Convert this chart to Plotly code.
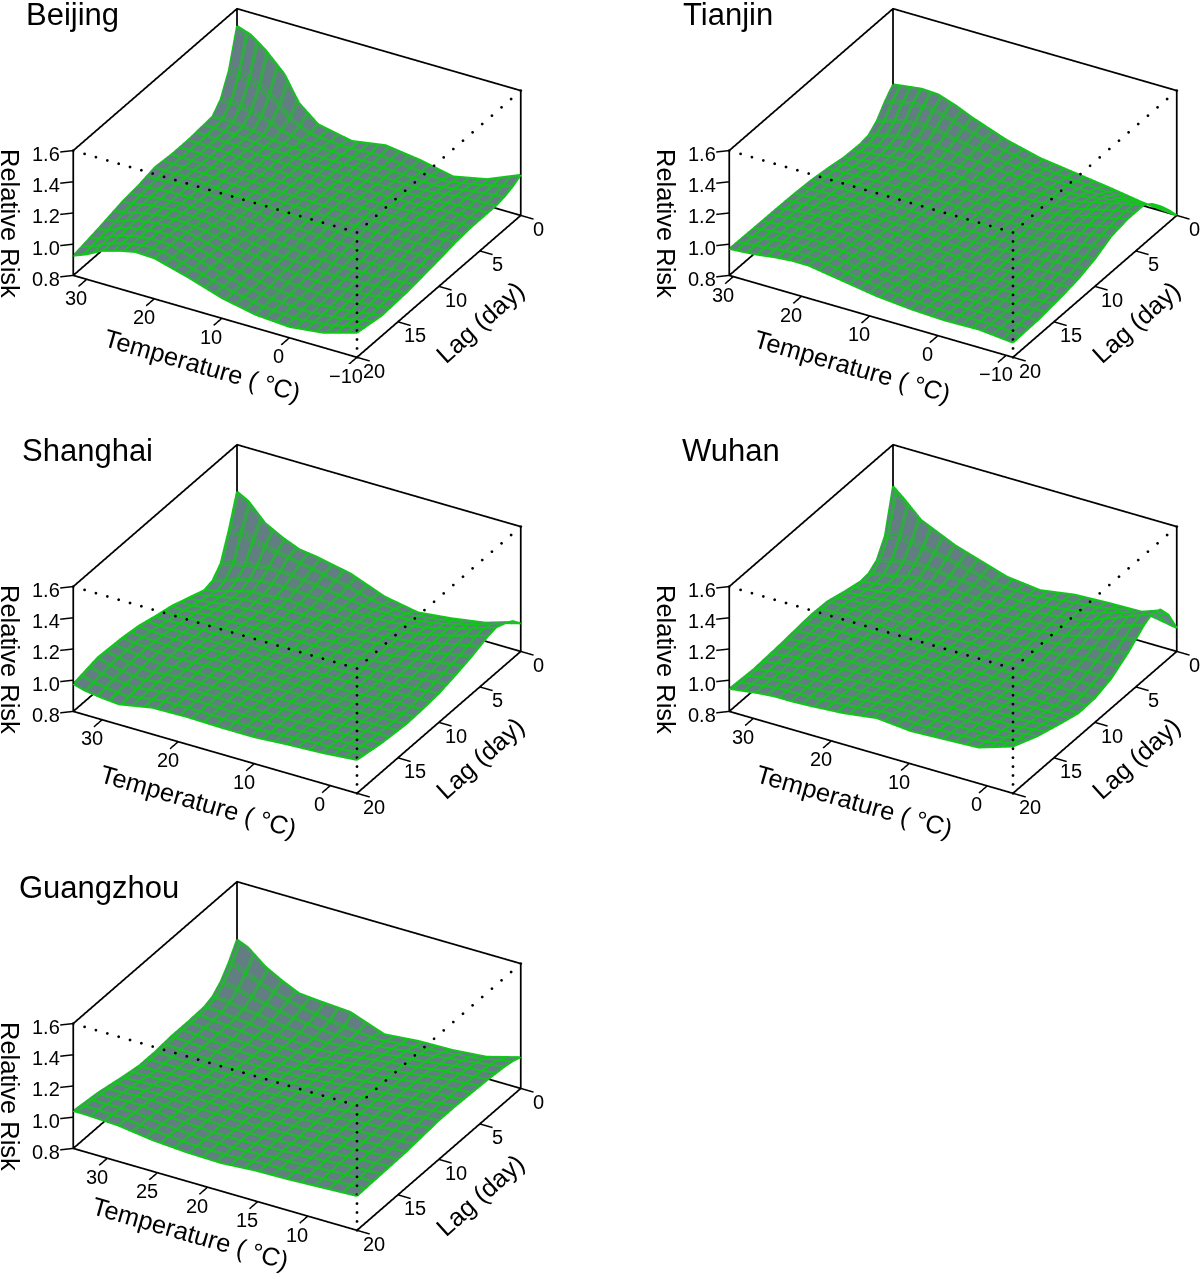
import plotly.graph_objects as go

lags = [0, 1, 2, 3, 4, 6, 8, 10, 12, 14, 17, 20]

beijing_temp = [-10, -5, 0, 5, 10, 15, 20, 22.8, 25, 27.8, 30, 32]
beijing_rr = [
    [1.06, .97, .925, .97, 1.00, .965, 1.01, 1.11, 1.27, 1.39, 1.46, 1.49],
    [1.03, .98, .94, .965, .985, .975, .995, 1.05, 1.14, 1.21, 1.24, 1.25],
    [1.01, .985, .955, .965, .98, .98, .995, 1.02, 1.06, 1.095, 1.11, 1.11],
    [1.00, .99, .965, .97, .98, .985, .995, 1.005, 1.02, 1.04, 1.05, 1.045],
    [1.00, .99, .975, .975, .98, .99, 1.0, 1.005, 1.02, 1.03, 1.035, 1.04],
    [1.00, .995, .985, .98, .985, .99, 1.0, 1.01, 1.02, 1.025, 1.03, 1.03],
    [.99, .985, .98, .98, .985, .99, 1.005, 1.01, 1.02, 1.025, 1.03, 1.03],
    [.97, .965, .96, .965, .98, .995, 1.01, 1.02, 1.03, 1.035, 1.035, 1.04],
    [.955, .945, .94, .95, .97, .99, 1.02, 1.03, 1.03, 1.03, 1.02, 1.015],
    [.94, .925, .915, .93, .955, .99, 1.03, 1.04, 1.04, 1.03, 1.01, 1.0],
    [.93, .90, .885, .90, .94, .995, 1.05, 1.055, 1.045, 1.02, .98, .96],
    [.957, .895, .87, .885, .93, 1.0, 1.06, 1.065, 1.045, 1.01, .96, .926],
]

tianjin_temp = [-11, -6, -1, 4, 9, 14, 19, 21.4, 24, 26.4, 29, 30.6]
tianjin_rr = [
    [.80, .82, .855, .885, .915, .97, 1.05, 1.096, 1.135, 1.14, 1.125, 1.115],
    [.88, .88, .885, .90, .925, .965, 1.03, 1.065, 1.09, 1.09, 1.07, 1.05],
    [.95, .93, .91, .915, .93, .96, 1.0, 1.02, 1.03, 1.02, .99, .97],
    [1.01, .97, .93, .925, .935, .955, .975, .985, .985, .97, .945, .925],
    [1.05, 1.0, .945, .93, .935, .95, .96, .965, .96, .945, .925, .915],
    [1.05, 1.0, .95, .935, .935, .945, .95, .955, .95, .94, .93, .92],
    [1.03, .985, .945, .93, .93, .94, .95, .95, .95, .945, .945, .94],
    [.975, .955, .93, .925, .925, .94, .955, .96, .96, .958, .955, .955],
    [.94, .93, .92, .915, .925, .945, .965, .97, .97, .97, .965, .962],
    [.92, .915, .91, .91, .925, .95, .98, .985, .985, .98, .97, .965],
    [.90, .905, .905, .91, .93, .96, .995, 1.0, 1.0, .99, .975, .967],
    [.894, .915, .91, .92, .94, .975, 1.01, 1.01, 1.0, .985, .975, .97],
]

shanghai_temp = [-3.5, 1, 5.5, 10, 14.4, 18.9, 23.4, 25.6, 27.8, 30.1, 32.3, 33.8]
shanghai_rr = [
    [.98, .92, .885, .86, .90, .985, 1.03, 1.045, 1.09, 1.15, 1.26, 1.30],
    [1.04, .97, .92, .89, .91, .965, 1.01, 1.03, 1.05, 1.07, 1.11, 1.10],
    [1.07, 1.0, .945, .915, .92, .95, .98, .99, .99, .97, .95, .93],
    [1.09, 1.02, .96, .93, .925, .94, .955, .955, .95, .92, .885, .865],
    [1.08, 1.02, .965, .935, .93, .93, .94, .93, .925, .895, .865, .85],
    [1.04, 1.0, .965, .945, .935, .935, .935, .93, .925, .91, .895, .89],
    [1.01, .985, .96, .945, .94, .94, .945, .94, .94, .935, .925, .93],
    [.985, .97, .955, .95, .945, .95, .955, .955, .955, .955, .95, .955],
    [.975, .965, .955, .955, .955, .96, .965, .965, .965, .97, .975, .985],
    [.97, .965, .96, .96, .96, .97, .975, .97, .97, .98, .99, 1.0],
    [.985, .975, .97, .965, .97, .975, .975, .965, .95, .965, .985, 1.01],
    [1.014, .995, .985, .97, .97, .975, .97, .95, .93, .94, .955, .976],
]

wuhan_temp = [-3.3, 1.1, 5.4, 9.8, 14.2, 18.5, 22.9, 25.1, 27.3, 29.5, 31.6, 33.1]
wuhan_rr = [
    [.95, .99, .985, .975, .94, .965, 1.035, 1.07, 1.12, 1.17, 1.27, 1.335],
    [1.08, 1.05, 1.0, .98, .95, .96, 1.005, 1.03, 1.05, 1.07, 1.08, 1.06],
    [1.16, 1.08, 1.01, .98, .955, .955, .98, .99, 1.0, .99, .97, .95],
    [1.18, 1.09, 1.01, .98, .955, .95, .965, .965, .97, .945, .925, .91],
    [1.15, 1.08, 1.01, .975, .955, .95, .955, .955, .955, .93, .915, .905],
    [1.06, 1.03, .995, .97, .955, .95, .95, .955, .955, .945, .935, .93],
    [.99, .985, .97, .96, .955, .955, .955, .96, .96, .96, .96, .96],
    [.955, .96, .96, .96, .96, .96, .965, .97, .97, .97, .965, .965],
    [.95, .955, .965, .97, .97, .97, .975, .975, .975, .97, .96, .955],
    [.98, .975, .98, .985, .985, .98, .98, .98, .98, .97, .955, .945],
    [1.03, 1.0, 1.0, 1.0, 1.01, .995, .985, .98, .98, .965, .95, .935],
    [1.10, 1.03, 1.02, 1.01, 1.03, 1.0, .985, .98, .98, .97, .955, .945],
]

guangzhou_temp = [5.1, 8.5, 11.9, 15.3, 18.7, 22.1, 25.5, 27.2, 28.9, 30.6, 32.3, 33.4]
guangzhou_rr = [
    [1.0, .94, .92, .915, .895, .975, .99, 1.0, 1.05, 1.11, 1.2, 1.23],
    [1.02, .975, .95, .93, .91, .93, .965, .99, 1.02, 1.06, 1.11, 1.13],
    [1.03, 1.0, .97, .945, .92, .92, .945, .965, .99, 1.01, 1.04, 1.05],
    [1.035, 1.01, .98, .955, .93, .915, .935, .95, .97, .98, 1.0, 1.0],
    [1.04, 1.02, .99, .965, .935, .915, .93, .94, .955, .965, .98, .98],
    [1.045, 1.03, 1.0, .975, .95, .925, .93, .94, .95, .96, .97, .975],
    [1.05, 1.03, 1.005, .985, .96, .945, .94, .945, .955, .96, .97, .975],
    [1.05, 1.03, 1.01, .99, .975, .96, .955, .955, .96, .96, .965, .965],
    [1.04, 1.025, 1.01, .99, .98, .97, .97, .97, .975, .97, .965, .965],
    [1.03, 1.02, 1.005, .99, .98, .98, .985, .99, .995, .99, .985, .985],
    [1.025, 1.015, 1.0, .99, .98, .98, .995, 1.005, 1.02, 1.02, 1.015, 1.02],
    [1.02, 1.01, 1.0, .995, .98, .985, 1.0, 1.015, 1.03, 1.035, 1.04, 1.04],
]

cities = ["Beijing", "Tianjin", "Shanghai", "Wuhan", "Guangzhou"]
temps = [beijing_temp, tianjin_temp, shanghai_temp, wuhan_temp, guangzhou_temp]
rrs = [beijing_rr, tianjin_rr, shanghai_rr, wuhan_rr, guangzhou_rr]
temp_ticks = [[-10, 0, 10, 20, 30], [-10, 0, 10, 20, 30], [0, 10, 20, 30], [0, 10, 20, 30], [10, 15, 20, 25, 30]]
temp_steps = [1.5, 1.5, 1.55, 1.5, 1.4]
lag_ticks = [0, 5, 10, 15, 20]
rr_ticks = [0.8, 1.0, 1.2, 1.4, 1.6]
offsets = [(0, 0), (656, 0), (0, 436), (656, 436), (0, 873)]
title_xy = [(24, 14), (681, 14), (20, 450), (680, 450), (17, 887)]
xtitle_xy = [(202, 365), (196, 366), (198, 365), (198, 365), (190, 360)]

W, H = 1200, 1275
BLACK = "#000000"
GREEN = "#10c818"
FONT = "Liberation Sans, Arial, sans-serif"
EYE = 3
eye = dict(x=-0.433 * EYE, y=0.75 * EYE, z=0.5 * EYE)
PAD = 0.1
ZOOM = 1.81
MESH_LAYERS_PX = [-1.0, -0.35, 0.35, 1.0]

fig = go.Figure()
annotations = []


def add_line(sid, seg, color=BLACK, width=3.5, dash="solid"):
    fig.add_trace(go.Scatter3d(
        x=[p[0] for p in seg], y=[p[1] for p in seg], z=[p[2] for p in seg],
        mode="lines", line=dict(color=color, width=width, dash=dash),
        scene=sid, showlegend=False, hoverinfo="skip"))


def add_dots(sid, a, b, n):
    xs = [a[0] + (b[0] - a[0]) * k / n for k in range(n + 1)]
    ys = [a[1] + (b[1] - a[1]) * k / n for k in range(n + 1)]
    zs = [a[2] + (b[2] - a[2]) * k / n for k in range(n + 1)]
    fig.add_trace(go.Scatter3d(x=xs, y=ys, z=zs, mode="markers", scene=sid, showlegend=False, hoverinfo="skip",
                               marker=dict(color=BLACK, size=1.6, line=dict(width=0))))


for i, city in enumerate(cities):
    ox, oy = offsets[i]
    sid = "scene" if i == 0 else f"scene{i+1}"
    t = temps[i]
    rr = rrs[i]
    tmin, tmax = t[0], t[-1]
    zmin, zmax = rr_ticks[0], rr_ticks[-1]
    lmin, lmax = lag_ticks[0], lag_ticks[-1]
    tspan, lspan, zspan = tmax - tmin, lmax - lmin, zmax - zmin
    cx, cy = ox + 296.5, oy + 182.5
    dw, dh = 490, 362
    for px in MESH_LAYERS_PX:
        dt = px * tspan / 252.0
        dl = px / 9.2
        fig.add_trace(go.Surface(
            x=t, y=lags, z=rr, scene=sid, showscale=False, hoverinfo="skip",
            colorscale=[[0, "#67858a"], [1, "#67858a"]],
            lighting=dict(ambient=0.95, diffuse=0.35, specular=0, roughness=1, fresnel=0),
            lightposition=dict(x=-500, y=1000, z=100),
            contours=dict(
                x=dict(show=True, start=tmin + dt, end=tmax + dt, size=temp_steps[i], color=GREEN, width=1, highlight=False),
                y=dict(show=True, start=lmin + dl, end=lmax + dl, size=1, color=GREEN, width=1, highlight=False),
                z=dict(highlight=False),
            ),
        ))
    # green border of the surface
    add_line(sid, [(v, lags[0], rr[0][k]) for k, v in enumerate(t)], GREEN, 4)
    add_line(sid, [(v, lags[-1], rr[-1][k]) for k, v in enumerate(t)], GREEN, 4)
    add_line(sid, [(t[0], l, rr[k][0]) for k, l in enumerate(lags)], GREEN, 4)
    add_line(sid, [(t[-1], l, rr[k][-1]) for k, l in enumerate(lags)], GREEN, 4)
    # box
    for seg in [
        [(tmax, lmax, zmax), (tmax, lmin, zmax), (tmin, lmin, zmax)],
        [(tmax, lmax, zmin), (tmin, lmax, zmin), (tmin, lmin, zmin), (tmax, lmin, zmin), (tmax, lmax, zmin)],
        [(tmax, lmax, zmin), (tmax, lmax, zmax)],
        [(tmax, lmin, zmin), (tmax, lmin, zmax)],
        [(tmin, lmin, zmin), (tmin, lmin, zmax)],
    ]:
        add_line(sid, seg)
    add_dots(sid, (tmax, lmax, zmax), (tmin, lmax, zmax), 25)
    add_dots(sid, (tmin, lmax, zmax), (tmin, lmin, zmax), 17)
    add_dots(sid, (tmin, lmax, zmax), (tmin, lmax, zmin), 14)
    # ticks and their labels
    scene_ann = []
    def label(x, y, z, text, dx, dy):
        scene_ann.append(dict(x=x, y=y, z=z, text=text, showarrow=False, xshift=dx, yshift=-dy,
                              xanchor="center", yanchor="middle", font=dict(family=FONT, size=20, color=BLACK)))
    for v in temp_ticks[i]:
        add_line(sid, [(v, lmax, zmin), (v, lmax + 0.05 * lspan, zmin)], width=3)
        label(v, lmax, zmin, str(v).replace("-", "\u2212"), -10, 19)
    for v in lag_ticks:
        add_line(sid, [(tmin, v, zmin), (tmin - 0.045 * tspan, v, zmin)], width=3)
        label(tmin, v, zmin, str(v), 18, 14)
    for v in rr_ticks:
        add_line(sid, [(tmax, lmax, v), (tmax + 0.03 * tspan, lmax + 0.0275 * lspan, v)], width=3)
        label(tmax, lmax, v, f"{v:.1f}", -27, 4)
    hidden = dict(visible=False)
    a = ZOOM * (1 + 2 * PAD)
    fig.update_layout({sid: dict(
        domain=dict(x=[(cx - dw / 2) / W, (cx + dw / 2) / W], y=[1 - (cy + dh / 2) / H, 1 - (cy - dh / 2) / H]),
        camera=dict(eye=eye, center=dict(x=0, y=0, z=0), up=dict(x=0, y=0, z=1), projection=dict(type="orthographic")),
        aspectmode="manual", aspectratio=dict(x=a, y=a, z=0.44 * a),
        xaxis=dict(hidden, range=[tmin - PAD * tspan, tmax + PAD * tspan]),
        yaxis=dict(hidden, range=[lmin - PAD * lspan, lmax + PAD * lspan]),
        zaxis=dict(hidden, range=[zmin - PAD * zspan, zmax + PAD * zspan]),
        annotations=scene_ann,
    )})
    tx, ty = title_xy[i]
    annotations.append(dict(text=city, x=tx / W, y=1 - ty / H, xref="paper", yref="paper", xanchor="left", yanchor="middle",
                            showarrow=False, font=dict(family=FONT, size=31, color=BLACK)))
    common = dict(xref="paper", yref="paper", xanchor="center", yanchor="middle", showarrow=False,
                  font=dict(family=FONT, size=25.5, color=BLACK))
    annotations.append(dict(common, text="Relative Risk", x=(ox + 10) / W, y=1 - (oy + 223) / H, textangle=90))
    annotations.append(dict(common, text="Temperature ( \u00b0C)", x=(ox + xtitle_xy[i][0]) / W, y=1 - (oy + xtitle_xy[i][1]) / H, textangle=16))
    annotations.append(dict(common, text="Lag (day)", x=(ox + 480) / W, y=1 - (oy + 322) / H, textangle=-42))

fig.update_layout(width=W, height=H, margin=dict(l=0, r=0, t=0, b=0), showlegend=False,
                  paper_bgcolor="white", annotations=annotations)
fig.write_html("out.html", config={"displayModeBar": False}, post_script="document.body.style.margin='0';")
